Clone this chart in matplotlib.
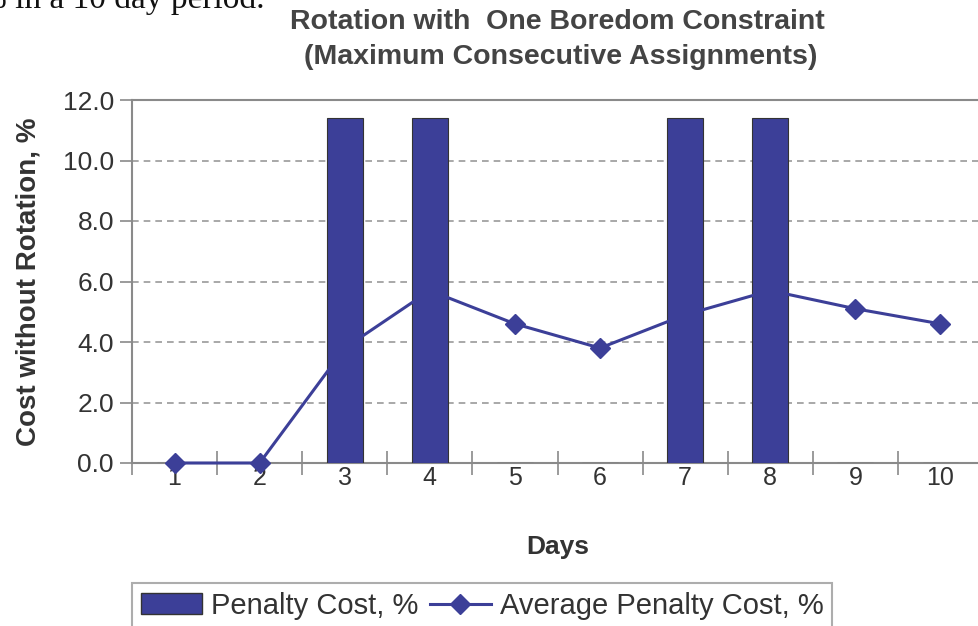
import matplotlib.pyplot as plt
from matplotlib.patches import Patch
from matplotlib.lines import Line2D

days = [1, 2, 3, 4, 5, 6, 7, 8, 9, 10]
penalty_cost = [0, 0, 11.4, 11.4, 0, 0, 11.4, 11.4, 0, 0]
avg_penalty_cost = [0.0, 0.0, 3.8, 5.7, 4.6, 3.8, 4.9, 5.7, 5.1, 4.6]
y_ticks = [0, 2, 4, 6, 8, 10, 12]

plt.rcParams['font.family'] = ['Liberation Sans', 'DejaVu Sans']
navy = '#3c3f98'
grey = '#8a8a8a'
txt = '#333333'

fig = plt.figure(figsize=(9.79, 6.26), dpi=100)
ax = fig.add_axes([132 / 979, 163 / 626, 851 / 979, 363 / 626])

ax.bar(days, penalty_cost, width=0.42, color=navy, edgecolor='#333333', linewidth=0.8, zorder=3)
ax.plot(days, avg_penalty_cost, color=navy, linewidth=2.2, marker='D', markersize=10,
        zorder=4, clip_on=False)

ax.set_xlim(0.5, 10.5)
ax.set_ylim(0, 12)
ax.set_yticks(y_ticks)
ax.set_yticklabels([f'{v:.1f}' for v in y_ticks], fontsize=19, color=txt)
ax.set_xticks([d + 0.5 for d in range(0, 11)])
ax.set_xticklabels([])
ax.set_xticks(days, minor=True)
ax.set_xticklabels([str(d) for d in days], minor=True, fontsize=18, color=txt)
ax.tick_params(axis='x', which='major', direction='inout', length=17, width=1.2, color=grey)
ax.tick_params(axis='x', which='minor', length=0, pad=2)
ax.tick_params(axis='y', direction='out', length=9, width=1.2, color=grey, pad=4)

for v in y_ticks[1:-1]:
    ax.axhline(v, color='#999999', linestyle=(0, (4, 3)), linewidth=1.2, zorder=1)

for s in ['left', 'bottom', 'top']:
    ax.spines[s].set_color(grey)
    ax.spines[s].set_linewidth(1.5)
ax.spines['right'].set_visible(False)

ax.set_xlabel('Days', fontsize=19, fontweight='bold', color=txt)
ax.xaxis.set_label_coords(0.5, (463 - 535) / 363)
ax.set_ylabel('Cost without Rotation, %', fontsize=20, fontweight='bold', color=txt)
ax.yaxis.set_label_coords((42 - 132) / 851, 0.5)

fig.text(557 / 979, 1 - 22 / 626, 'Rotation with  One Boredom Constraint', fontsize=20.5,
         fontweight='bold', color='#444444', ha='center', va='center')
fig.text(561 / 979, 1 - 57 / 626, '(Maximum Consecutive Assignments)', fontsize=20.5,
         fontweight='bold', color='#444444', ha='center', va='center')

fig.text(265 / 979, 1 - 8 / 626, '% in a 10 day period.', family='Liberation Serif', fontsize=24,
         va='baseline', ha='right', color='#111111')

handles = [Patch(facecolor=navy, edgecolor='#333333'),
           Line2D([0], [0], color=navy, linewidth=2.2, marker='D', markersize=10)]
leg = fig.legend(handles, ['Penalty Cost, %', 'Average Penalty Cost, %'], ncol=2,
                 loc='upper left', bbox_to_anchor=(132 / 979, 1 - 583 / 626),
                 fontsize=21, frameon=True, fancybox=False, handlelength=2.1,
                 handletextpad=0.3, columnspacing=0.4, borderpad=0.3, borderaxespad=0)
leg.get_frame().set_edgecolor('#999999')
leg.get_frame().set_linewidth(1.5)
for t in leg.get_texts():
    t.set_color(txt)

fig.savefig('out.png', dpi=100)
